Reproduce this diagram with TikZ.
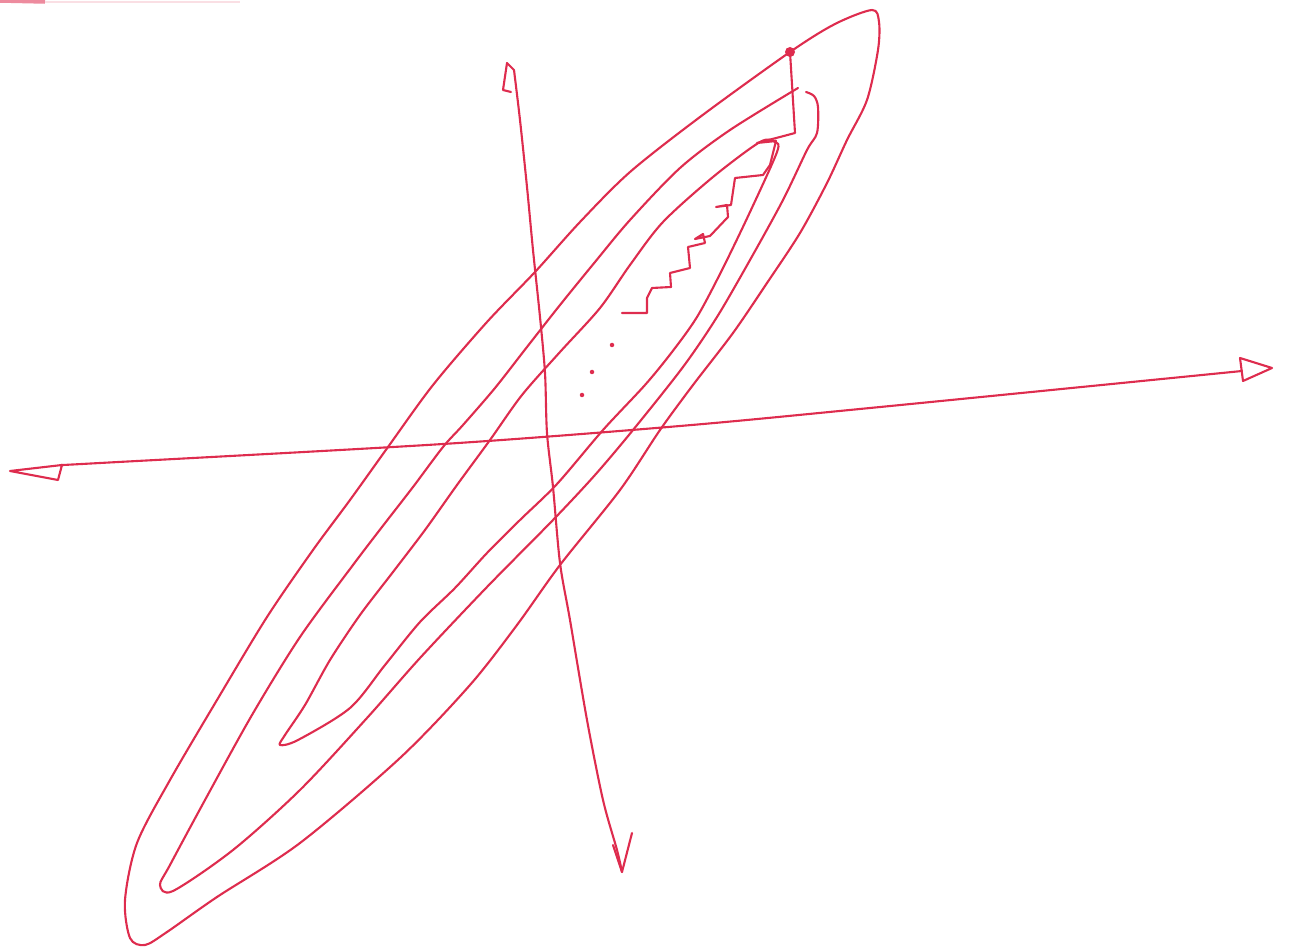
\documentclass[tikz,border=0pt]{standalone}
\usepackage{xcolor}
\usepackage{tikz}
\definecolor{inkred}{RGB}{222,44,78}

\begin{document}
\begin{tikzpicture}[x=0.02cm, y=-0.02cm,
    pen/.style={draw=inkred, line width=1.2pt, line cap=round, line join=round}]
  \useasboundingbox (0,0) rectangle (1289,949);
  % scan smear at the top edge
  \draw[inkred!55, line width=2pt] (0,1) -- (45,2);
  \draw[inkred!15, line width=1.5pt] (45,2) -- (240,2);

  % level curves
  \draw[pen] plot[smooth cycle] coordinates {(872,10) (835,24) (790,52) (700,117) (630,172) (580,222) (535,272)
    (487,322) (433,385) (388,447) (350,500) (313,550) (267,617) (217,700) (170,780) (137,843) (125,900)
    (130,938) (145,945) (167,932) (217,897) (300,843) (400,758) (470,685) (517,625) (560,565) (620,490)
    (660,430) (693,385) (733,333) (767,283) (800,233) (827,183) (847,140) (867,100) (878,50) (879,22)};
  \draw[pen] plot[smooth] coordinates {(798,88) (730,130) (680,168) (630,220) (595,262) (560,305) (527,347)
    (495,388) (463,425) (443,447) (413,487) (382,527) (353,565) (300,637) (252,715) (205,800) (170,865)
    (160,885) (173,891) (233,850) (300,790) (367,718) (420,658) (487,587) (553,520) (595,475) (633,430)
    (683,367) (717,317) (750,260) (783,200) (807,150) (817,133) (818,107) (814,96) (806,92)};
  \draw[pen] plot[smooth cycle] coordinates {(760,142) (713,177) (663,222) (630,265) (600,308) (560,352)
    (522,395) (490,440) (457,485) (425,530) (393,572) (360,615) (330,660) (305,705) (285,735) (280,745)
    (298,740) (350,708) (385,665) (420,622) (455,588) (487,553) (520,520) (557,484) (603,430) (645,385)
    (672,352) (697,317) (722,270) (750,212) (777,152) (775,142)};

  % axes
  \coordinate (xl) at (62,465);
  \coordinate (xr) at (1242,371);
  \coordinate (yt) at (514,70);
  \coordinate (yb) at (622,872);
  \draw[pen] plot[smooth] coordinates {(xl) (100,463) (443,444) (680,426) (870,408) (xr)};
  \draw[pen] (xl) -- (10,471) -- (58,480) -- cycle;
  \draw[pen] (1240,358) -- (1272,368) -- (1243,381) -- cycle;
  \draw[pen] plot[smooth] coordinates {(yt) (520,120) (527,187) (533,250) (540,317) (545,373) (547,433)
    (553,487) (560,563) (570,620) (587,720) (603,800) (617,850) (yb)};
  \draw[pen] (yt) -- (507,63) -- (503,90) -- (511,92);
  \draw[pen] (613,845) -- (yb) -- (632,833);

  % descent path
  \fill[inkred] (790,52) circle[radius=0.1cm];
  \draw[pen] (790,52) -- (795,133) -- (780,137) -- (757,143) -- (776,141) -- (770,165) -- (763,175)
    -- (735,178) -- (731,205) -- (716,207) -- (727,205) -- (728,217) -- (710,236) -- (695,239)
    -- (703,234) -- (705,243) -- (688,247) -- (690,268) -- (670,273) -- (671,287) -- (652,288)
    -- (647,298) -- (647,313) -- (622,313);
  \foreach \p in {(612,345), (592,372), (582,395)}
    \fill[inkred] \p circle[radius=0.045cm];
\end{tikzpicture}
\end{document}
